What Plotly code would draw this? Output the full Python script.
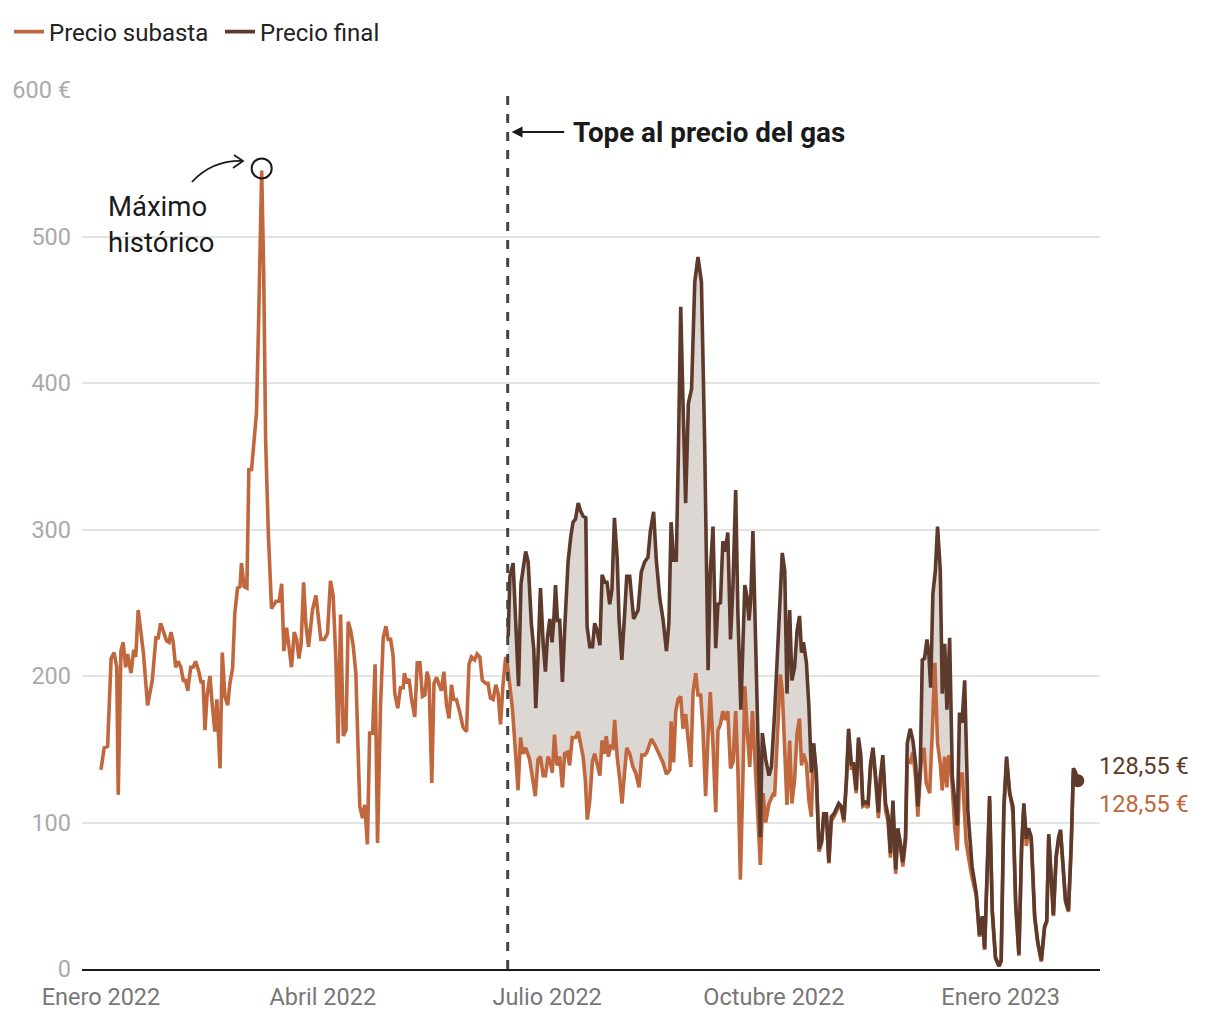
import pandas as pd
import plotly.graph_objects as go

INICIO = pd.Timestamp("2022-01-01")

# Days since 1 Jan 2022 and prices in €/MWh
dias_subasta = [0, 1.3, 2.7, 4.1, 5.3, 6.4, 7.0, 8.1, 9.0, 10.0, 10.8, 12.2, 13.3, 14.1, 15.1, 17.2, 18.9, 20.8,
                22.3, 23.2, 24.2, 25.3, 26.6, 27.6, 28.4, 29.3, 30.3, 31.3, 32.4, 33.4, 34.3, 35.2, 36.4, 37.4,
                38.4, 39.7, 40.6, 41.4, 42.2, 43.0, 44.2, 45.1, 46.2, 47.0, 48.3, 49.2, 50.3, 51.4, 52.3, 53.4,
                54.3, 55.4, 56.4, 57.0, 58.1, 59.2, 60.0, 61.1, 62.2, 63.1, 64.0, 65.2, 66.0, 66.8, 67.9, 69.2,
                71.0, 72.3, 73.3, 74.2, 75.3, 76.2, 77.3, 78.4, 79.4, 80.3, 81.2, 82.2, 83.1, 84.2, 85.8, 87.2,
                88.1, 89.2, 90.6, 91.9, 93.1, 94.2, 95.3, 96.2, 97.2, 98.3, 99.4, 100.3, 101.3, 102.3, 103.4,
                105.0, 106.1, 107.0, 108.1, 109.0, 110.2, 111.2, 112.2, 113.4, 114.5, 115.6, 116.5, 117.5, 118.5,
                119.2, 120.4, 121.5, 122.6, 123.1, 124.0, 125.0, 126.0, 127.3, 128.3, 129.4, 130.4, 131.4, 132.3,
                133.1, 134.2, 135.1, 136.1, 137.2, 138.1, 139.1, 140.2, 141.2, 142.2, 143.1, 144.2, 145.6, 146.9,
                148.3, 149.3, 150.3, 151.6, 152.6, 153.7, 154.7, 156.1, 157.0, 158.0, 159.1, 160.2, 161.1, 162.1,
                163.1, 164.2, 164.8,
                166.9, 168.3, 169.2, 170.2, 171.2, 172.3, 173.9, 175.2, 176.2, 177.3, 178.3, 179.4, 180.3, 181.4,
                182.4, 183.1, 184.0, 185.0, 186.1, 187.2, 188.1, 189.2, 190.1, 191.2, 192.6, 193.6, 194.6, 195.6,
                196.5, 197.3, 198.3, 199.4, 200.3, 201.3, 202.4, 203.3, 204.1, 205.0, 205.8, 206.8, 207.7, 208.4,
                209.4, 210.5, 211.4, 212.4, 213.3, 214.5, 215.8, 216.9, 218.3, 219.4, 220.6, 221.5, 223.3, 224.7,
                226.7, 228.0, 229.4, 230.8, 231.3, 232.3, 233.2, 234.1, 235.2, 236.1, 237.2, 238.1, 239.3, 240.2,
                241.3, 242.2, 243.3, 244.2, 245.3, 246.3, 247.2, 248.3, 249.4, 250.3, 251.3, 252.3, 253.3, 254.3,
                255.4, 256.4, 257.5, 258.4, 259.4, 260.5, 261.2, 262.1, 263.2, 264.3, 265.2, 266.5, 267.5, 268.6,
                269.7, 271.0, 272.6, 273.3, 274.7, 275.6, 276.4, 277.4, 278.3, 279.4, 280.3, 281.4, 282.4, 283.4,
                284.2, 285.0, 286.2, 287.2, 288.2, 289.1,
                290.2, 291.3, 292.4, 293.2, 294.3, 295.3, 296.3, 297.4, 298.3, 299.3, 300.4, 301.4, 302.4, 303.3,
                304.4, 305.3, 306.4, 307.3, 308.2, 309.1, 310.2, 311.2, 312.2, 313.2, 314.3, 315.4, 316.2, 317.2,
                318.3, 319.3, 320.3, 321.3, 322.4, 323.3, 324.3, 325.3, 326.4, 327.1, 328.3, 329.4, 330.5, 331.4,
                332.8, 333.9, 334.8, 336.2, 337.3, 338.3, 339.4, 340.5, 341.3, 342.3, 343.2, 344.0, 345.0, 346.4,
                347.4, 348.3, 349.4, 351.0, 353.1, 355.1, 356.4, 357.5, 358.5, 359.4, 360.5, 361.6, 362.9, 364.3,
                365.2, 366.3, 367.4, 368.6, 370.0, 371.1, 372.4, 373.5, 374.4, 375.4, 376.3, 377.4, 378.8, 380.1,
                381.5, 382.8, 383.7, 384.5, 385.5, 386.4, 387.5, 388.5, 389.3, 390.2, 391.3, 392.5, 393.6, 394.5,
                395.4, 396.3]
precio_subasta = [136, 151, 152, 212, 216, 206, 119, 217, 223, 206, 215, 202, 218, 213, 245, 216, 180, 197,
                  226, 226, 236, 231, 224, 223, 230, 223, 206, 210, 206, 197, 197, 190, 206, 206,
                  210, 203, 196, 196, 163, 186, 200, 181, 162, 184, 137, 216, 186, 180, 195, 205,
                  243, 260, 261, 277, 261, 260, 341, 341, 367, 380, 445, 545, 477, 361, 297, 246,
                  251, 251, 263, 217, 233, 221, 206, 230, 225, 212, 222, 264, 236, 220, 245, 255,
                  241, 225, 225, 229, 265, 255, 211, 154, 242, 159, 163, 237, 231, 221, 202,
                  111, 103, 112, 85, 161, 161, 208, 86, 179, 226, 234, 225, 225, 214,
                  188, 178, 192, 192, 202, 195, 198, 184, 172, 209, 209, 186, 187, 203,
                  197, 127, 195, 199, 193, 190, 203, 180, 171, 194, 184, 184, 175, 165,
                  162, 208, 213, 211, 215, 213, 197, 195, 195, 185, 184, 194, 188, 167,
                  194, 213, 209,
                  178, 145, 122, 158, 147, 151, 143, 129, 118, 143, 145, 132, 132, 145,
                  140, 134, 160, 139, 145, 124, 147, 148, 139, 158, 158, 162, 154, 145,
                  129, 102, 115, 142, 147, 139, 132, 156, 147, 159, 145, 152, 151, 170,
                  145, 129, 113, 134, 151, 147, 138, 134, 124, 146, 146, 148, 157, 153,
                  146, 141, 133, 136, 169, 141, 176, 184, 186, 164, 174, 157, 138, 189,
                  202, 187, 187, 164, 118, 159, 189, 153, 107, 163, 167, 176, 170, 176,
                  137, 141, 176, 136, 61, 136, 193, 165, 138, 176, 147, 113, 71, 120,
                  100, 113, 119, 118, 170, 201, 190, 147, 112, 156, 113, 129, 161, 171,
                  139, 147, 140, 115, 104, 154,
                  131, 80, 86, 104, 104, 72, 101, 104, 107, 111, 109, 100, 126, 160,
                  137, 137, 120, 154, 144, 111, 112, 110, 137, 148, 128, 103, 127, 142,
                  108, 101, 76, 111, 65, 93, 83, 70, 87, 142, 141, 148, 130, 104,
                  143, 151, 127, 120, 163, 209, 154, 140, 122, 145, 124, 146, 134, 96,
                  81, 129, 134, 86, 65, 50, 22, 35, 13, 52, 115, 38, 7, 2,
                  5, 108, 143, 122, 106, 43, 9, 82, 110, 84, 93, 88, 35, 17,
                  5, 28, 32, 90, 57, 36, 75, 88, 93, 70, 46, 39, 82, 135,
                  132, 128.55]

dias_final = [165.2, 165.9, 167.2, 168.3, 169.4, 170.4, 171.5, 172.3, 173.3, 174.6, 175.6, 176.4, 177.3, 178.3,
              179.4, 180.3, 181.1, 182.1, 183.0, 183.7, 184.4, 185.2, 186.1, 187.2, 188.3, 189.5, 190.6, 191.5,
              192.5, 193.6, 194.5, 195.6, 196.7, 197.2, 198.3, 199.4, 200.3, 201.3, 202.4, 203.3, 204.4, 205.3,
              206.4, 207.3, 208.3, 209.4, 210.2, 211.3, 212.4, 213.3, 214.5, 216.1, 217.9, 219.2, 220.6, 221.9,
              222.9, 224.2, 225.3, 226.7, 228.0, 229.4, 230.4, 231.3, 232.3, 233.4, 234.2, 235.2, 236.1, 237.2,
              238.3, 239.6, 240.9, 242.2, 243.6, 244.9, 246.3, 247.2, 248.3, 249.4, 250.3, 251.3, 252.3, 253.3,
              254.3, 255.4, 256.4, 257.5, 258.4, 259.6, 261.2, 262.1, 262.9, 263.6, 264.5, 265.6, 266.5, 267.5,
              268.3, 269.7, 271.0, 272.0, 273.3, 274.7, 275.6, 276.4, 277.4, 278.3, 279.4, 280.3, 281.4, 282.4,
              283.4, 284.2, 285.0, 286.2, 287.2, 288.2, 289.1, 290.2, 291.3, 292.4, 293.2, 294.3, 295.3, 296.3,
              297.4, 298.3, 299.3, 300.4, 301.4, 302.4, 303.3, 304.4, 305.3, 306.4, 307.3, 308.2, 309.1, 310.2,
              311.2, 312.2, 313.2, 314.3, 315.4, 316.2, 317.2, 318.3, 319.3, 320.3, 321.3, 322.4, 323.3, 324.3,
              325.3, 326.4, 327.1, 328.3, 329.4, 330.5, 331.4, 332.4, 333.2, 334.1, 335.1, 335.9, 336.6, 337.5,
              338.5, 339.4, 340.5, 341.3, 342.3, 343.2, 344.3, 345.4, 346.4, 347.4, 348.3, 349.3, 350.4, 351.7,
              353.4, 355.1, 356.4, 357.5, 358.5, 359.4, 360.5, 361.6, 362.9, 364.3, 365.2, 366.3, 367.4, 368.6,
              370.0, 371.1, 372.4, 373.5, 374.4, 375.4, 376.3, 377.4, 378.8, 380.1, 381.5, 382.8, 383.7, 384.5,
              385.5, 386.4, 387.5, 388.5, 389.3, 390.2, 391.3, 392.5, 393.6, 394.5, 395.4, 396.3]
precio_final = [227, 268, 277, 231, 193, 263, 277, 285, 278, 236, 218, 178, 213, 260,
                222, 203, 226, 239, 223, 238, 262, 238, 238, 196, 238, 278, 295, 305,
                307, 318, 313, 309, 308, 234, 220, 220, 236, 231, 221, 269, 264, 264,
                249, 259, 308, 281, 238, 211, 241, 268, 268, 239, 245, 271, 278, 281,
                299, 312, 279, 253, 239, 217, 236, 305, 279, 279, 348, 452, 388, 318,
                386, 396, 469, 486, 469, 360, 204, 271, 302, 219, 249, 250, 292, 285,
                298, 225, 262, 327, 242, 177, 262, 254, 238, 252, 299, 216, 147, 90,
                161, 143, 132, 138, 175, 227, 266, 284, 272, 188, 245, 197, 206, 231,
                241, 216, 223, 209, 179, 134, 154, 134, 82, 88, 106, 106, 73, 104,
                106, 109, 113, 111, 102, 129, 164, 140, 140, 122, 158, 147, 113, 114,
                113, 140, 151, 131, 107, 131, 146, 113, 105, 79, 115, 68, 96, 86,
                73, 90, 154, 164, 156, 140, 111, 138, 211, 212, 225, 214, 192, 256,
                272, 302, 272, 188, 222, 177, 226, 131, 115, 98, 175, 168, 197, 108,
                70, 52, 23, 36, 14, 54, 118, 40, 8, 2, 6, 111, 145, 120,
                111, 45, 10, 84, 113, 89, 96, 90, 36, 18, 6, 29, 33, 92,
                59, 37, 77, 90, 95, 72, 47, 40, 84, 137, 134, 128.55]

dia_tope = 165          # 15 June 2022, gas price cap
rango_dias = [-7.7, 405.3]

tick_dias = ["2022-01-01", "2022-04-01", "2022-07-01", "2022-10-01", "2023-01-01"]
tick_textos = ["Enero 2022", "Abril 2022", "Julio 2022", "Octubre 2022", "Enero 2023"]
y_vals = [0, 100, 200, 300, 400, 500, 600]
y_textos = ["0", "100", "200", "300", "400", "500", "600 €"]

C_SUB = "#c1673d"
C_FIN = "#5d3a2c"
C_FILL = "#ddd7d3"
FONT = "Roboto"

OFF = 8                       # page body margin
W, H = 1220, 1020
ML, MR, MT, MB = 82 - OFF, 1220 - 1100 + OFF, 90 - OFF, 1020 - 969 + OFF


def fechas(dias):
    return [INICIO + pd.Timedelta(days=d) for d in dias]


def px_x(p):
    return (p - OFF - ML) / (W - ML - MR)


def px_y(p):
    return (H - MB - (p - OFF)) / (H - MT - MB)


x_sub = fechas(dias_subasta)
x_fin = fechas(dias_final)

idx_tope = [i for i, d in enumerate(dias_subasta) if d >= dia_tope - 0.5]
x_sub_tope = [x_sub[i] for i in idx_tope]
y_sub_tope = [precio_subasta[i] for i in idx_tope]

fig = go.Figure()
fig.add_trace(go.Scatter(x=x_sub_tope, y=y_sub_tope, mode="lines", line=dict(width=0, color=C_FILL),
                         showlegend=False, hoverinfo="skip"))
fig.add_trace(go.Scatter(x=x_fin, y=precio_final, mode="lines", line=dict(width=0, color=C_FILL),
                         fill="tonexty", fillcolor=C_FILL, showlegend=False, hoverinfo="skip"))
fig.add_trace(go.Scatter(x=x_sub, y=precio_subasta, mode="lines", name="Precio subasta",
                         line=dict(color=C_SUB, width=3.6)))
fig.add_trace(go.Scatter(x=x_fin, y=precio_final, mode="lines", name="Precio final",
                         line=dict(color=C_FIN, width=3.6)))
fig.add_trace(go.Scatter(x=[x_fin[-1]], y=[precio_final[-1]], mode="markers",
                         marker=dict(color=C_FIN, size=13), showlegend=False, hoverinfo="skip"))

# gas cap line
fecha_tope = INICIO + pd.Timedelta(days=dia_tope)
fig.add_shape(type="line", xref="x", yref="paper", x0=fecha_tope, x1=fecha_tope, y0=0, y1=1,
              line=dict(color="#444444", width=3, dash="dash"))
fig.add_annotation(xref="x", yref="paper", x=fecha_tope, y=px_y(132), ax=58, ay=0,
                   text="", showarrow=True, arrowhead=2, arrowsize=1.2, arrowwidth=1.8,
                   arrowcolor="#1a1a1a", standoff=4)
fig.add_annotation(xref="paper", yref="paper", x=px_x(571), y=px_y(132), xanchor="left", yanchor="middle",
                   text="<b>Tope al precio del gas</b>", showarrow=False,
                   font=dict(family=FONT, size=27.8, color="#1a1a1a"))

# historic maximum
i_max = max(range(len(precio_subasta)), key=lambda i: precio_subasta[i])
fig.add_shape(type="circle", xref="x", yref="y", xsizemode="pixel", ysizemode="pixel",
              xanchor=x_sub[i_max], yanchor=precio_subasta[i_max] + 1.5,
              x0=-10, x1=10, y0=-10, y1=10, line=dict(color="#1a1a1a", width=2))
p = lambda x, y: f"{px_x(x):.5f},{px_y(y):.5f}"
fig.add_shape(type="path", xref="paper", yref="paper",
              path=f"M {p(192,182)} Q {p(212,160)} {p(243,161)}",
              line=dict(color="#1a1a1a", width=1.8))
fig.add_shape(type="path", xref="paper", yref="paper",
              path=f"M {p(234,155)} L {p(243,161)} L {p(233,168)}",
              line=dict(color="#1a1a1a", width=1.8))
fig.add_annotation(xref="paper", yref="paper", x=px_x(106), y=px_y(224), xanchor="left", yanchor="middle",
                   text="Máximo<br>histórico", showarrow=False, align="left",
                   font=dict(family=FONT, size=27.5, color="#1a1a1a"))

# end labels
fig.add_annotation(x=x_fin[-1], y=precio_final[-1], xanchor="left", yanchor="middle", xshift=19, yshift=15,
                   text=f"{precio_final[-1]:.2f} €".replace(".", ","), showarrow=False,
                   font=dict(family=FONT, size=23.5, color=C_FIN))
fig.add_annotation(x=x_sub[-1], y=precio_subasta[-1], xanchor="left", yanchor="middle", xshift=19, yshift=-23,
                   text=f"{precio_subasta[-1]:.2f} €".replace(".", ","), showarrow=False,
                   font=dict(family=FONT, size=23.5, color=C_SUB))

fig.update_layout(
    width=W, height=H,
    margin=dict(l=ML, r=MR, t=MT, b=MB, autoexpand=False),
    plot_bgcolor="white", paper_bgcolor="white",
    font=dict(family=FONT, size=23.5, color="#222"),
    showlegend=True,
    legend=dict(orientation="h", x=px_x(9), y=px_y(32), xanchor="left", yanchor="middle",
                traceorder="normal", font=dict(family=FONT, size=24, color="#222"),
                itemwidth=30, entrywidth=166, tracegroupgap=0),
    xaxis=dict(type="date", range=fechas(rango_dias), tickvals=tick_dias, ticktext=tick_textos,
               showgrid=False, showline=True, linecolor="#1a1a1a", linewidth=2, ticks="",
               tickfont=dict(family=FONT, size=23.5, color="#777"), ticklabelstandoff=6, zeroline=False),
    yaxis=dict(range=[0, 600], tickvals=y_vals, ticktext=y_textos, showgrid=True, gridcolor="#e3e3e3",
               gridwidth=1.5, zeroline=False, ticks="", showline=False,
               tickfont=dict(family=FONT, size=23.5, color="#aaaaaa"), ticklabelstandoff=10),
)

fig.write_html("out.html")
